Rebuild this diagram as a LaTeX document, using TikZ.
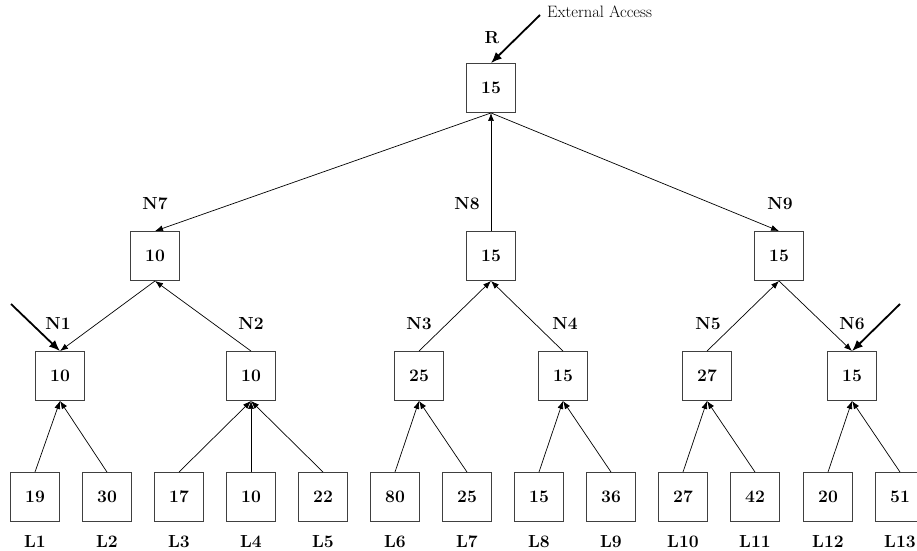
\documentclass[tikz,border=0pt]{standalone}
\usetikzlibrary{arrows.meta}
\begin{document}
\begin{tikzpicture}[x=1pt,y=-1pt,
  box/.style={draw=black!75,line width=0.9pt,minimum size=49pt,inner sep=0pt,font=\fontsize{17.5}{20}\selectfont\bfseries},
  lbl/.style={inner sep=0pt,anchor=base,font=\fontsize{17.5}{20}\selectfont\bfseries},
  edge/.style={-{Latex[length=8pt,width=6pt]},line width=0.7pt},
  ext/.style={-{Latex[length=11pt,width=9pt]},line width=1.8pt}]
\useasboundingbox (0,0) rectangle (917,550);
% root and level 2
\node[box] (R) at (491,88) {15};
\node[box] (N7) at (155,256) {10};
\node[box] (N8) at (491,256) {15};
\node[box] (N9) at (779,256) {15};
% level 1
\node[box] (N1) at (60,376) {10};
\node[box] (N2) at (251,376) {10};
\node[box] (N3) at (419,376) {25};
\node[box] (N4) at (563,376) {15};
\node[box] (N5) at (707,376) {27};
\node[box] (N6) at (852,376) {15};
% leaves
\node[box] (L1) at (35,497) {19};
\node[box] (L2) at (107,497) {30};
\node[box] (L3) at (179,497) {17};
\node[box] (L4) at (251,497) {10};
\node[box] (L5) at (323,497) {22};
\node[box] (L6) at (395,497) {80};
\node[box] (L7) at (467,497) {25};
\node[box] (L8) at (539,497) {15};
\node[box] (L9) at (611,497) {36};
\node[box] (L10) at (683,497) {27};
\node[box] (L11) at (755,497) {42};
\node[box] (L12) at (828,497) {20};
\node[box] (L13) at (900,497) {51};
% labels
\node[lbl] (tR) at (492,43) {R};
\node[lbl] (t7) at (155,209) {N7};
\node[lbl] (t8) at (467,209) {N8};
\node[lbl] (t9) at (780,209) {N9};
\node[lbl] (t1) at (58,329) {N1};
\node[lbl] (t2) at (251,329) {N2};
\node[lbl] (t3) at (419,329) {N3};
\node[lbl] (t4) at (565,329) {N4};
\node[lbl] (t5) at (708,329) {N5};
\node[lbl] (t6) at (852,329) {N6};
\foreach \i/\x in {1/35,2/107,3/179,4/251,5/323,6/395,7/467,8/539,9/611,10/683,11/755,12/828,13/900}
  \node[lbl] (tl\i) at (\x,547) {L\i};
\node[inner sep=0pt,anchor=west,font=\fontsize{16.5}{19}\selectfont] (ext) at (547,12) {External Access};
% external accesses
\coordinate (eR) at (540,15);
\coordinate (e1) at (11,304);
\coordinate (e6) at (900,304);
\draw[ext] (eR) -- (R.north);
\draw[ext] (e1) -- (N1.north);
\draw[ext] (e6) -- (N6.north);
% tree edges
\draw[edge] (R.south) -- (N7.north);
\draw[edge] (N8.north) -- (R.south);
\draw[edge] (R.south) -- (N9.north);
\draw[edge] (N7.south) -- (N1.north);
\draw[edge] (N2.north) -- (N7.south);
\draw[edge] (N3.north) -- (N8.south);
\draw[edge] (N4.north) -- (N8.south);
\draw[edge] (N5.north) -- (N9.south);
\draw[edge] (N9.south) -- (N6.north);
\draw[edge] (L1.north) -- (N1.south);
\draw[edge] (L2.north) -- (N1.south);
\draw[edge] (L3.north) -- (N2.south);
\draw[edge] (L4.north) -- (N2.south);
\draw[edge] (L5.north) -- (N2.south);
\draw[edge] (L6.north) -- (N3.south);
\draw[edge] (L7.north) -- (N3.south);
\draw[edge] (L8.north) -- (N4.south);
\draw[edge] (L9.north) -- (N4.south);
\draw[edge] (L10.north) -- (N5.south);
\draw[edge] (L11.north) -- (N5.south);
\draw[edge] (L12.north) -- (N6.south);
\draw[edge] (L13.north) -- (N6.south);
\end{tikzpicture}
\end{document}
